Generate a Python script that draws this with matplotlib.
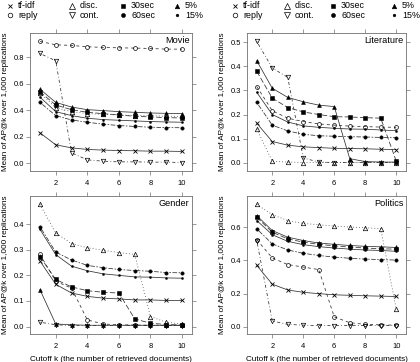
import matplotlib
matplotlib.use('Agg')
import matplotlib.pyplot as plt
from matplotlib.lines import Line2D

plt.rcParams['font.family'] = ['Liberation Sans', 'DejaVu Sans']

k = [1, 2, 3, 4, 5, 6, 7, 8, 9, 10]
methods = ['tf-idf', 'reply', 'disc.', 'cont.', '30sec', '60sec', '5%', '15%']

movie = {
    'tf-idf': [0.230, 0.139, 0.116, 0.104, 0.099, 0.096, 0.094, 0.091, 0.091, 0.089],
    'reply':  [0.921, 0.896, 0.891, 0.881, 0.876, 0.873, 0.871, 0.868, 0.863, 0.863],
    'disc.':  [0.530, 0.420, 0.390, 0.375, 0.370, 0.365, 0.360, 0.360, 0.355, 0.355],
    'cont.':  [0.830, 0.775, 0.078, 0.025, 0.015, 0.010, 0.010, 0.008, 0.008, 0.005],
    '30sec':  [0.540, 0.440, 0.405, 0.385, 0.375, 0.365, 0.355, 0.350, 0.345, 0.342],
    '60sec':  [0.460, 0.360, 0.327, 0.310, 0.295, 0.285, 0.278, 0.272, 0.270, 0.268],
    '5%':     [0.560, 0.460, 0.425, 0.405, 0.398, 0.390, 0.385, 0.380, 0.377, 0.375],
    '15%':    [0.500, 0.390, 0.360, 0.340, 0.330, 0.325, 0.320, 0.315, 0.312, 0.310],
}
literature = {
    'tf-idf': [0.164, 0.088, 0.073, 0.066, 0.063, 0.060, 0.059, 0.058, 0.056, 0.055],
    'reply':  [0.316, 0.216, 0.185, 0.171, 0.161, 0.156, 0.152, 0.150, 0.148, 0.147],
    'disc.':  [0.140, 0.006, 0.003, 0.001, 0.001, 0.001, 0.001, 0.001, 0.001, 0.001],
    'cont.':  [0.503, 0.393, 0.354, 0.020, 0.003, 0.001, 0.001, 0.001, 0.001, 0.001],
    '30sec':  [0.379, 0.268, 0.229, 0.211, 0.200, 0.191, 0.190, 0.187, 0.185, 0.007],
    '60sec':  [0.250, 0.156, 0.132, 0.118, 0.112, 0.110, 0.108, 0.107, 0.105, 0.104],
    '5%':     [0.423, 0.309, 0.271, 0.253, 0.239, 0.233, 0.017, 0.005, 0.003, 0.003],
    '15%':    [0.292, 0.200, 0.169, 0.153, 0.147, 0.143, 0.140, 0.139, 0.136, 0.133],
}
gender = {
    'tf-idf': [0.256, 0.165, 0.131, 0.118, 0.111, 0.108, 0.104, 0.104, 0.102, 0.102],
    'reply':  [0.282, 0.177, 0.150, 0.026, 0.010, 0.007, 0.006, 0.005, 0.005, 0.005],
    'disc.':  [0.477, 0.366, 0.324, 0.308, 0.298, 0.289, 0.282, 0.039, 0.017, 0.010],
    'cont.':  [0.017, 0.007, 0.004, 0.004, 0.004, 0.004, 0.004, 0.004, 0.004, 0.004],
    '30sec':  [0.273, 0.184, 0.155, 0.140, 0.134, 0.131, 0.030, 0.013, 0.008, 0.006],
    '60sec':  [0.390, 0.291, 0.260, 0.239, 0.230, 0.223, 0.219, 0.216, 0.211, 0.210],
    '5%':     [0.144, 0.010, 0.007, 0.005, 0.005, 0.005, 0.005, 0.005, 0.005, 0.005],
    '15%':    [0.380, 0.281, 0.236, 0.218, 0.206, 0.200, 0.194, 0.193, 0.190, 0.189],
}
politics = {
    'tf-idf': [0.370, 0.257, 0.222, 0.208, 0.200, 0.193, 0.190, 0.187, 0.185, 0.183],
    'reply':  [0.525, 0.415, 0.375, 0.360, 0.345, 0.060, 0.025, 0.015, 0.012, 0.010],
    'disc.':  [0.737, 0.676, 0.640, 0.623, 0.615, 0.607, 0.601, 0.597, 0.591, 0.106],
    'cont.':  [0.520, 0.035, 0.015, 0.010, 0.008, 0.008, 0.008, 0.008, 0.008, 0.008],
    '30sec':  [0.660, 0.570, 0.530, 0.510, 0.497, 0.488, 0.480, 0.475, 0.470, 0.468],
    '60sec':  [0.590, 0.500, 0.463, 0.443, 0.430, 0.420, 0.413, 0.408, 0.405, 0.402],
    '5%':     [0.670, 0.580, 0.540, 0.520, 0.505, 0.497, 0.490, 0.485, 0.482, 0.478],
    '15%':    [0.640, 0.555, 0.515, 0.495, 0.483, 0.475, 0.468, 0.463, 0.460, 0.455],
}
panel_titles = ['Movie', 'Literature', 'Gender', 'Politics']
x_ticks = [2, 4, 6, 8, 10]
y_ticks = [[0.0, 0.2, 0.4, 0.6, 0.8],
           [0.0, 0.1, 0.2, 0.3, 0.4, 0.5],
           [0.0, 0.1, 0.2, 0.3, 0.4],
           [0.0, 0.2, 0.4, 0.6]]

ylab = 'Mean of AP@k over 1,000 replications'
xlab = 'Cutoff k (the number of retrieved documents)'

styles = {
    'tf-idf': dict(marker='x', mfc='black', ms=3.0, mew=0.6, dashes=None),
    'reply':  dict(marker='o', mfc='none', ms=2.8, mew=0.5, dashes=(4, 4)),
    'disc.':  dict(marker='^', mfc='none', ms=3.2, mew=0.5, dashes=(1, 3)),
    'cont.':  dict(marker='v', mfc='none', ms=3.2, mew=0.5, dashes=(1, 3, 4, 3)),
    '30sec':  dict(marker='s', mfc='black', ms=2.4, mew=0.4, dashes=(7, 3)),
    '60sec':  dict(marker='o', mfc='black', ms=2.4, mew=0.4, dashes=(2, 2, 6, 2)),
    '5%':     dict(marker='^', mfc='black', ms=2.8, mew=0.4, dashes=None),
    '15%':    dict(marker='o', mfc='black', ms=1.5, mew=0.3, dashes=None),
}

W, H = 420, 362
fig = plt.figure(figsize=(W / 100, H / 100), dpi=100)

def px_axes(left, top, right, bottom):
    return fig.add_axes([left / W, 1 - bottom / H, (right - left) / W, (bottom - top) / H])

axes = [px_axes(30, 33, 192, 171), px_axes(247, 33, 406, 171),
        px_axes(30, 196, 192, 334), px_axes(247, 196, 406, 334)]
datasets = [movie, literature, gender, politics]
frame_col = '#707070'

for i, (ax, data) in enumerate(zip(axes, datasets)):
    for m in methods:
        st = styles[m]
        line, = ax.plot(k, data[m], color='#303030', lw=0.55, marker=st['marker'],
                        mfc=st['mfc'], mec='black', ms=st['ms'], mew=st['mew'])
        if st['dashes'] is not None:
            line.set_dashes(st['dashes'])
    ax.margins(x=0.07, y=0.07)
    ax.set_xticks(x_ticks)
    ax.set_yticks(y_ticks[i])
    ax.set_yticklabels(['%.1f' % v for v in y_ticks[i]])
    ax.tick_params(direction='out', length=3.2, width=0.5, color=frame_col,
                   labelsize=5.4, pad=1.0, top=True, right=True,
                   labeltop=False, labelright=False)
    ax.tick_params(axis='x', pad=3.0)
    for s in ax.spines.values():
        s.set_color(frame_col)
        s.set_linewidth(0.6)
    ax.text(0.985, 0.975, panel_titles[i], transform=ax.transAxes,
            ha='right', va='top', fontsize=6.6)
    ax.set_ylabel(ylab, fontsize=5.9, labelpad=3.0)
    if i >= 2:
        ax.set_xlabel(xlab, fontsize=5.9, labelpad=4.5)

# keys (one above each column of panels)
leg_rows = [('tf-idf', 'disc.', '30sec', '5%'), ('reply', 'cont.', '60sec', '15%')]
key_cols = [[10, 72, 123, 177], [235, 287, 333, 394]]
key_y = [5.5, 15.0]
for cols in key_cols:
    for r, row in enumerate(leg_rows):
        for j, m in enumerate(row):
            st = styles[m]
            xm = cols[j] / W
            ym = 1 - key_y[r] / H
            fig.add_artist(Line2D([xm], [ym], transform=fig.transFigure, ls='none',
                                  marker=st['marker'], mfc=st['mfc'], mec='black',
                                  ms=st['ms'] + 0.5, mew=st['mew']))
            fig.text((cols[j] + 8) / W, ym, m, fontsize=6.4, va='center', ha='left')

fig.savefig('out.png', dpi=100)
